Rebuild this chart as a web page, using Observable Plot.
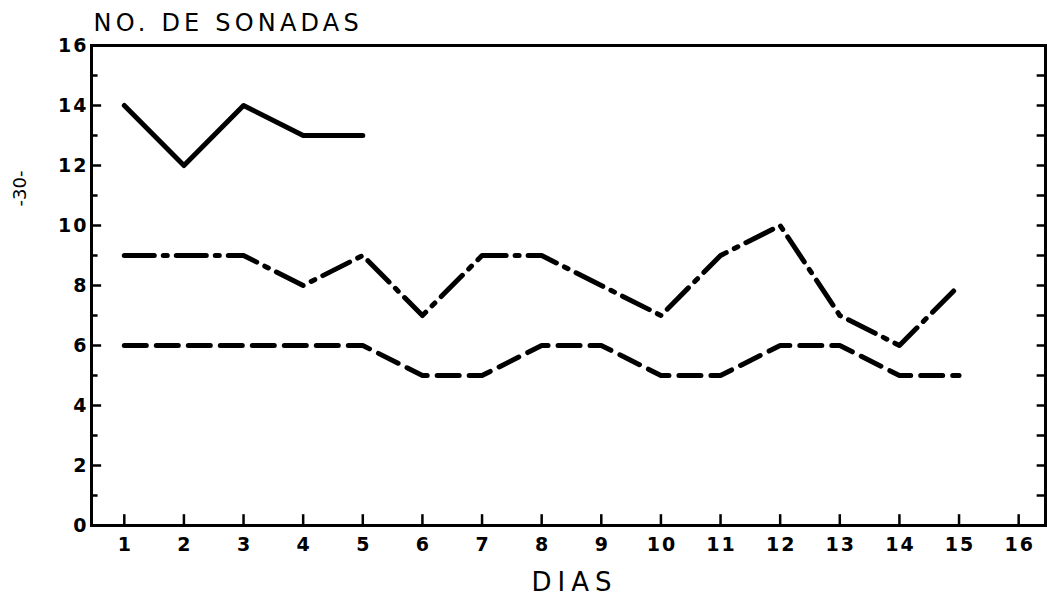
<!DOCTYPE html>
<html><head><meta charset="utf-8">
<script src="https://cdn.jsdelivr.net/npm/d3@7"></script>
<script src="https://cdn.jsdelivr.net/npm/@observablehq/plot@0.6"></script>
<style>body{margin:0;background:#fff}
.ttl text{letter-spacing:4.2px}
.xlab text{letter-spacing:6px}
g[aria-label="x-axis tick label"] text{letter-spacing:2px}
g[aria-label="y-axis tick label"] text{letter-spacing:2px}
</style>
</head><body><div id="chart"></div>
<script>
const dias = [1,2,3,4,5,6,7,8,9,10,11,12,13,14,15];
const serieSolida = [14,12,14,13,13];
const serieRayaPunto = [9,9,9,8,9,7,9,9,8,7,9,10,7,6,8];
const serieRaya = [6,6,6,6,6,5,5,6,6,5,5,6,6,5,5];
const xTicks = [1,2,3,4,5,6,7,8,9,10,11,12,13,14,15,16];
const yTicks = [0,2,4,6,8,10,12,14,16];
const yMinor = [1,3,5,7,9,11,13,15];
const yRight = [1,2,3,4,5,6,7,8,9,10,11,12,13,14,15];
const titulo = "NO. DE SONADAS";
const ejeX = "DIAS";
const pagina = "-30-";

const solid = serieSolida.map((v,i)=>({x:dias[i], y:v}));
const dashdot = serieRayaPunto.map((v,i)=>({x:dias[i], y:v}));
const dashed = serieRaya.map((v,i)=>({x:dias[i], y:v}));

const xmin = 0.45, xmax = 16.45;
const font = "DejaVu Sans, sans-serif";

const chart = Plot.plot({
  width: 1047, height: 596,
  marginLeft: 91, marginRight: 2, marginTop: 45, marginBottom: 71,
  style: {fontFamily: font, fontSize: "19px", fontWeight: "bold", color: "#000", background: "#fff"},
  x: {domain: [xmin, xmax]},
  y: {domain: [0, 16]},
  marks: [
    Plot.axisX({ticks: xTicks, tickSize: 0, tickPadding: 12, label: null, tickFormat: d=>String(d), fontSize: 19, dx: 1}),
    Plot.axisY({ticks: yTicks, tickSize: 0, tickPadding: 3, label: null, tickFormat: d=>String(d), fontSize: 19}),
    Plot.ruleX(xTicks, {x: d=>d, y1: 0, y2: 0.36, strokeWidth: 2.5}),
    Plot.ruleY(yTicks, {y: d=>d, x1: xmin, x2: xmin+0.17, strokeWidth: 2.5}),
    Plot.ruleY(yMinor, {y: d=>d, x1: xmin, x2: xmin+0.11, strokeWidth: 2.5}),
    Plot.ruleY(yRight, {y: d=>d, x1: xmax-0.14, x2: xmax, strokeWidth: 2.5}),
    Plot.frame({strokeWidth: 3}),
    Plot.line(solid, {x: "x", y: "y", strokeWidth: 5}),
    Plot.line(dashdot, {x: "x", y: "y", strokeWidth: 5, strokeDasharray: "30,9,4,9"}),
    Plot.line(dashed, {x: "x", y: "y", strokeWidth: 5, strokeDasharray: "22,10"}),
    Plot.text([titulo], {x: xmin, y: 16, text: d=>d, dy: -22, dx: 2, textAnchor: "start", fontSize: 24, fontWeight: "normal", fill: "#000", className: "ttl"}),
    Plot.text([ejeX], {x: 8.55, y: 0, text: d=>d, dy: 57, fontSize: 26, fontWeight: "normal", fill: "#000", className: "xlab"}),
    Plot.text([pagina], {frameAnchor: "left", text: d=>d, dx: -71, dy: -79, rotate: -90, fontSize: 18, fontWeight: "normal", fill: "#000"})
  ]
});
document.getElementById("chart").appendChild(chart);
</script>
</body></html>
